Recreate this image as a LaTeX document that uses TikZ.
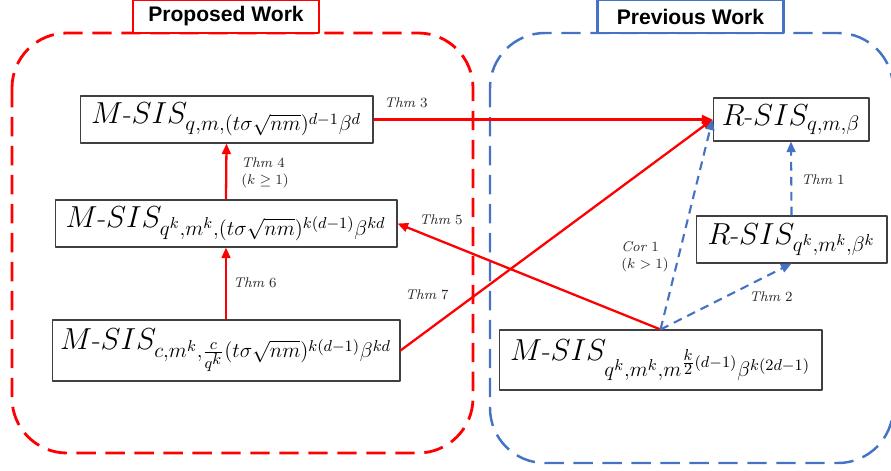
\documentclass[tikz,border=0pt]{standalone}
\usepackage{amsmath}
\usepackage{fontspec}
\newfontfamily\titlefont{Liberation Sans}
\DeclareMathSizes{16}{16}{12}{9.5}
\usetikzlibrary{arrows.meta}
\definecolor{propred}{RGB}{255,0,0}
\definecolor{prevblue}{RGB}{68,114,196}
\begin{document}
\begin{tikzpicture}[x=0.02cm,y=-0.02cm,line cap=butt,line join=round,
	probbox/.style={draw=black!75,line width=0.6pt,fill=white,inner sep=2pt,font=\fontsize{16}{18}\selectfont},
	titlebox/.style={line width=1.4pt,fill=white,minimum width=3.72cm,minimum height=0.66cm,inner sep=0pt,font=\titlefont\bfseries\fontsize{12}{14}\selectfont},
	redarrow/.style={draw=propred,line width=1.3pt,-{Triangle[length=6pt,width=5pt]}},
	bluearrow/.style={draw=prevblue,line width=1.2pt,dash pattern=on 5pt off 3.5pt,-{Triangle[length=6pt,width=5pt]}},
	thmlabel/.style={font=\footnotesize,align=left,inner sep=0pt,text=black!85}]
	\useasboundingbox (0,0) rectangle (891,470);
	% frames
	\draw[propred,line width=1.6pt,dash pattern=on 11pt off 5.5pt,rounded corners=1.1cm]
	(12,33) rectangle (473,453);
	\draw[prevblue,line width=1.4pt,dash pattern=on 11pt off 5.5pt,rounded corners=1.1cm]
	(490,33) rectangle (893,463);
	\node[titlebox,draw=propred] (proposed) at (226,16.5) {Proposed Work};
	\node[titlebox,draw=prevblue] (previous) at (690.5,16.5) {Previous Work};

	% problems
	\node[probbox,minimum width=5.86cm,minimum height=0.94cm] (msisA) at (226.5,119.5)
	{$M\text{-}SIS_{q,m,(t\sigma\sqrt{nm})^{d-1}\beta^{d}}$};
	\node[probbox,minimum width=6.84cm,minimum height=0.94cm] (msisB) at (226,223.5)
	{$M\text{-}SIS_{q^k,m^k,(t\sigma\sqrt{nm})^{k(d-1)}\beta^{kd}}$};
	\node[probbox,minimum width=6.96cm,minimum height=1.22cm] (msisC) at (226,350.5)
	{$M\text{-}SIS_{c,m^k,\frac{c}{q^k}(t\sigma\sqrt{nm})^{k(d-1)}\beta^{kd}}$};
	\node[probbox,minimum width=3.12cm,minimum height=0.86cm] (rsisD) at (791,119.5)
	{$R\text{-}SIS_{q,m,\beta}$};
	\node[probbox,minimum width=3.82cm,minimum height=0.94cm] (rsisE) at (791.5,239.5)
	{$R\text{-}SIS_{q^k,m^k,\beta^k}$};
	\node[probbox,minimum width=6.46cm,minimum height=1.2cm] (msisF) at (660.5,360)
	{$M\text{-}SIS_{q^k,m^k,m^{\frac{k}{2}(d-1)}\beta^{k(2d-1)}}$};

	% proposed reductions
	\draw[redarrow] (msisA.east) -- (rsisD.west);
	\draw[redarrow] (msisB.north) -- (msisA.south);
	\draw[redarrow] (msisC.north) -- (msisB.south);
	\draw[redarrow] (msisC.east) -- (rsisD.west);
	\draw[redarrow] (msisF.north) -- (msisB.east);

	% previous reductions
	\draw[bluearrow] (rsisE.north) -- (rsisD.south);
	\draw[bluearrow] (msisF.north) -- (rsisE.south);
	\draw[bluearrow] (msisF.north) -- (rsisD.west);

	% labels
	\node[thmlabel] (thm3) at (406,103) {$\mathit{Thm}\ 3$};
	\node[thmlabel] (thm4) at (265,173) {$\mathit{Thm}\ 4$\\$(k\geq 1)$};
	\node[thmlabel] (thm6) at (255,283) {$\mathit{Thm}\ 6$};
	\node[thmlabel] (thm7) at (427,295) {$\mathit{Thm}\ 7$};
	\node[thmlabel] (thm5) at (441,220) {$\mathit{Thm}\ 5$};
	\node[thmlabel] (cor1) at (645,257) {$\mathit{Cor}\ 1$\\$(k>1)$};
	\node[thmlabel] (thm2) at (771,297) {$\mathit{Thm}\ 2$};
	\node[thmlabel] (thm1) at (823,180) {$\mathit{Thm}\ 1$};
\end{tikzpicture}
\end{document}
